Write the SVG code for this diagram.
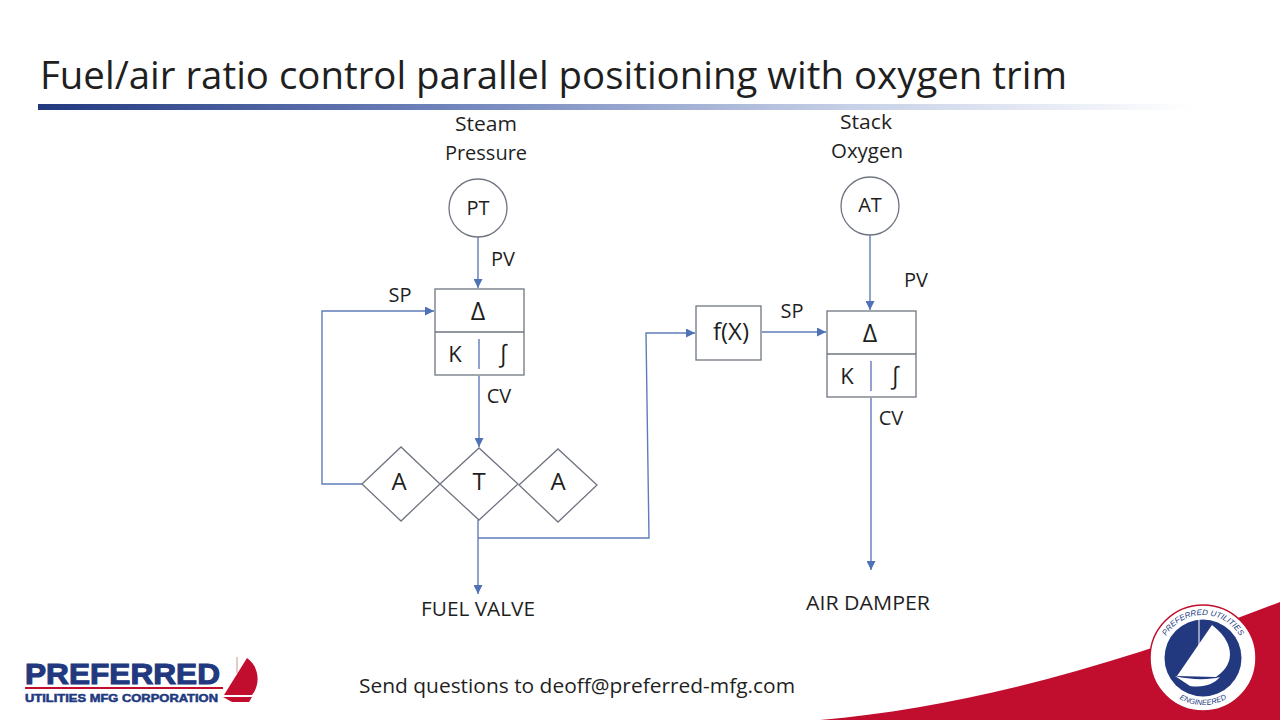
<svg xmlns="http://www.w3.org/2000/svg" width="1280" height="720" viewBox="0 0 1280 720">
<defs>
<linearGradient id="rule" x1="0" x2="1" y1="0" y2="0"><stop offset="0" stop-color="#22397f"/><stop offset="0.35" stop-color="#6f83bb"/><stop offset="0.7" stop-color="#c5cfe6"/><stop offset="1" stop-color="#ffffff"/></linearGradient>
<marker id="arr" markerUnits="userSpaceOnUse" markerWidth="10" markerHeight="9" refX="9" refY="4.500" orient="auto"><path d="M0 0L9 4.500L0 9Z" fill="#4f71b5"/></marker>
<path id="arcTop" d="M1160 658A43 43 0 0 1 1246 658"/>
<path id="arcBot" d="M1156 658A47 47 0 0 0 1250 658"/>
</defs>
<style>
text{font-family:"Open Sans","Noto Sans","Liberation Sans",sans-serif;fill:#1f1f1f;text-anchor:middle}
.l{font-size:20px}
.b{font-size:24px}
.m{font-size:22px}
.d{font-size:25px}
.n{fill:#fff;stroke:#6f7580;stroke-width:1.300}
.c{fill:none;stroke:#5f7cb8;stroke-width:1.400}
.a{marker-end:url(#arr)}
.logo{font-family:"Liberation Sans",Arial,sans-serif;font-weight:700;fill:#22397f;stroke:#22397f;text-anchor:start}
</style>
<rect width="1280" height="720" fill="#fff"/>
<rect x="38" y="104" width="1155" height="6" fill="url(#rule)"/>
<text x="40" y="89" style="font-size:38.500px;text-anchor:start" textLength="1027" lengthAdjust="spacingAndGlyphs">Fuel/air ratio control parallel positioning with oxygen trim</text>
<path d="M820 720C960 708 1110 668 1280 602V720Z" fill="#c10e2e"/>

<g id="connectors">
<path class="c a" d="M478 237V288"/>
<path class="c a" d="M362 484H322V311H434"/>
<path class="c a" d="M479 376V447"/>
<path class="c a" d="M478 520V594"/>
<path class="c a" d="M478 538H649L646 333H695"/>
<path class="c a" d="M762 332H826"/>
<path class="c a" d="M870 235L870 310"/>
<path class="c a" d="M871 398V570"/>
</g>

<g id="pt"><circle class="n" cx="478" cy="208" r="29"/><text class="l" x="478" y="215">PT</text></g>
<g id="at"><circle class="n" cx="870" cy="206" r="29"/><text class="l" x="870" y="212">AT</text></g>
<g id="ctrl1"><rect class="n" x="435" y="289" width="89" height="86"/><path class="n" d="M435 332H524"/><path class="c" d="M479 339V369"/><text class="d" x="478" y="320">Δ</text><text class="m" x="455" y="362">K</text><text class="b" x="503" y="362">∫</text></g>
<g id="ctrl2"><rect class="n" x="827" y="311" width="89" height="86"/><path class="n" d="M827 354H916"/><path class="c" d="M871 361V391"/><text class="d" x="870" y="342">Δ</text><text class="m" x="847" y="384">K</text><text class="b" x="895" y="384">∫</text></g>
<g id="fx"><rect class="n" x="696" y="306" width="65" height="54"/><text class="b" x="731" y="340">f(X)</text></g>
<g id="a1"><path class="n" d="M362 484L401 447L440 484L401 521Z"/><text class="b" x="399" y="490">A</text></g>
<g id="t"><path class="n" d="M440 484L479 448L518 484L479 520Z"/><text class="b" x="479" y="490">T</text></g>
<g id="a2"><path class="n" d="M519 485L558 449L597 485L558 522Z"/><text class="b" x="558" y="490">A</text></g>

<g id="labels">
<text class="l" x="486" y="131" textLength="62" lengthAdjust="spacingAndGlyphs">Steam</text><text class="l" x="486" y="160">Pressure</text>
<text class="l" x="866" y="129" textLength="52" lengthAdjust="spacingAndGlyphs">Stack</text><text class="l" x="867" y="158" textLength="72" lengthAdjust="spacingAndGlyphs">Oxygen</text>
<text class="l" x="503" y="266">PV</text><text class="l" x="400" y="302">SP</text><text class="l" x="499" y="403">CV</text>
<text class="l" x="792" y="318">SP</text><text class="l" x="916" y="287">PV</text><text class="l" x="891" y="425">CV</text>
<text class="l" x="478" y="616" textLength="114" lengthAdjust="spacingAndGlyphs">FUEL VALVE</text><text class="l" x="868" y="610" textLength="124" lengthAdjust="spacingAndGlyphs">AIR DAMPER</text>
<text class="l" x="577" y="693" textLength="436" lengthAdjust="spacingAndGlyphs">Send questions to deoff@preferred-mfg.com</text>
</g>

<g id="logo-left">
<text class="logo" x="25" y="684" style="font-size:29.500px;stroke-width:1.100" textLength="195" lengthAdjust="spacingAndGlyphs">PREFERRED</text>
<rect x="25" y="687" width="198" height="2" fill="#c10e2e"/>
<text class="logo" x="25" y="702" style="font-size:10.500px;stroke-width:.5" textLength="193" lengthAdjust="spacingAndGlyphs">UTILITIES MFG CORPORATION</text>
<path d="M247 658C259 666 261 684 252 695L224 695Z" fill="#c10e2e"/>
<path d="M223 697L252 697L249 702H232Z" fill="#c10e2e"/>
<path d="M237 657V673" stroke="#c98" stroke-width="1"/>
</g>

<g id="logo-right">
<circle cx="1203" cy="658" r="53" fill="#fff" stroke="#c10e2e" stroke-width="1.500"/>
<circle cx="1203" cy="658" r="38.500" fill="#22397f"/>
<path d="M1212 625C1232 640 1238 662 1216 677L1177 676Z" fill="#fff"/>
<path d="M1199 620V668" stroke="#fff" stroke-width="1"/>
<path d="M1175 676C1190 680 1210 680 1220 677C1214 684 1204 688 1190 686Z" fill="#fff"/>
<text style="font-size:8px;font-style:italic;font-family:'Liberation Sans',sans-serif;fill:#22397f"><textPath href="#arcTop" startOffset="50%">PREFERRED UTILITIES</textPath></text>
<text style="font-size:7.500px;font-style:italic;font-family:'Liberation Sans',sans-serif;fill:#22397f"><textPath href="#arcBot" startOffset="50%">ENGINEERED</textPath></text>
</g>
</svg>
